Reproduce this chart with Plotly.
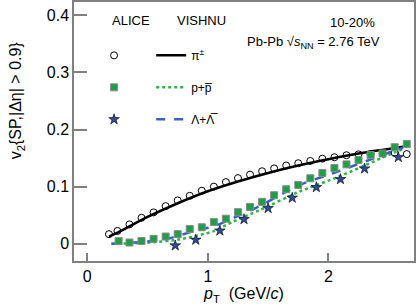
import plotly.graph_objects as go

# ALICE data
pi_pt = [0.18, 0.25, 0.35, 0.45, 0.55, 0.65, 0.75, 0.85, 0.95, 1.05, 1.15, 1.25, 1.35,
         1.45, 1.55, 1.65, 1.75, 1.85, 1.95, 2.05, 2.15, 2.25, 2.35, 2.45, 2.55, 2.65]
pi_v2 = [0.017, 0.0225, 0.034, 0.0456, 0.055, 0.066, 0.076, 0.084, 0.093, 0.100, 0.108,
         0.115, 0.121, 0.127, 0.132, 0.137, 0.141, 0.145, 0.149, 0.1515, 0.155, 0.1565,
         0.157, 0.158, 0.159, 0.157]

p_pt = [0.26, 0.35, 0.45, 0.55, 0.65, 0.75, 0.85, 0.95, 1.05, 1.15, 1.25, 1.35, 1.45,
        1.55, 1.65, 1.75, 1.85, 1.95, 2.05, 2.15, 2.25, 2.35, 2.45, 2.55, 2.65]
p_v2 = [0.0047, 0.0023, 0.005, 0.0087, 0.0128, 0.017, 0.026, 0.029, 0.038, 0.044, 0.0554,
        0.0646, 0.0735, 0.085, 0.0955, 0.103, 0.1147, 0.124, 0.1325, 0.139, 0.1467,
        0.1555, 0.158, 0.169, 0.1747]

lam_pt = [0.73, 0.90, 1.10, 1.30, 1.50, 1.70, 1.90, 2.10, 2.30, 2.58]
lam_v2 = [-0.003, 0.007, 0.023, 0.043, 0.0623, 0.0805, 0.099, 0.113, 0.1315, 0.1515]

# VISHNU curves
vpi_pt = [0.18, 0.3, 0.5, 0.75, 1.0, 1.25, 1.5, 1.75, 2.0, 2.25, 2.5, 2.62]
vpi_v2 = [0.0125, 0.025, 0.047, 0.071, 0.092, 0.109, 0.124, 0.137, 0.148, 0.158, 0.166, 0.170]

vp_pt = [0.2, 0.5, 0.77, 1.04, 1.21, 1.43, 1.76, 2.08, 2.56, 2.62]
vp_v2 = [0.0, 0.002, 0.008, 0.0215, 0.039, 0.059, 0.0914, 0.117, 0.161, 0.166]

vl_pt = [0.2, 0.45, 0.65, 0.93, 1.04, 1.43, 1.76, 2.06, 2.56, 2.62]
vl_v2 = [0.0, 0.003, 0.008, 0.025, 0.030, 0.066, 0.103, 0.125, 0.164, 0.168]

x_ticks = [0, 1, 2]
y_ticks = [0, 0.1, 0.2, 0.3, 0.4]
y_tick_labels = ["0", "0.1", "0.2", "0.3", "0.4"]

FONT = "Liberation Sans, Arial, sans-serif"
AX = "#808080"

fig = go.Figure()

fig.add_trace(go.Scatter(x=vpi_pt, y=vpi_v2, mode="lines", name="π<sup>±</sup>",
                         line=dict(color="black", width=2.5, shape="spline", smoothing=0.8),
                         legend="legend2", legendgroup="v1"))
fig.add_trace(go.Scatter(x=vp_pt, y=vp_v2, mode="lines", name="p+p\u0305",
                         line=dict(color="#2fb34a", width=2.5, dash="dot", shape="spline", smoothing=0.6),
                         legend="legend2", legendgroup="v2"))
fig.add_trace(go.Scatter(x=vl_pt, y=vl_v2, mode="lines", name="Λ+Λ\u0305",
                         line=dict(color="#3a5fc4", width=2.5, dash="dash", shape="spline", smoothing=0.6),
                         legend="legend2", legendgroup="v3"))

fig.add_trace(go.Scatter(x=pi_pt, y=pi_v2, mode="markers", name="\u00a0",
                         marker=dict(symbol="circle-open", size=7, color="black", line=dict(width=1)),
                         legend="legend", legendgroup="a1"))
fig.add_trace(go.Scatter(x=p_pt, y=p_v2, mode="markers", name="\u00a0",
                         marker=dict(symbol="square", size=7, color="#1f9e48",
                                     line=dict(color="#8a8a8a", width=1)),
                         legend="legend", legendgroup="a2"))
fig.add_trace(go.Scatter(x=lam_pt, y=lam_v2, mode="markers", name="\u00a0",
                         marker=dict(symbol="star", size=8, color="#2c4c9c",
                                     line=dict(color="black", width=0.6)),
                         legend="legend", legendgroup="a3"))

common_leg = dict(bgcolor="rgba(0,0,0,0)", font=dict(family=FONT, size=12, color="black"),
                  tracegroupgap=13, yanchor="top", xanchor="left", itemwidth=30)

anns = [
    dict(text="v<sub>2</sub>{SP,|Δη| > 0.9}", x=-0.168, y=0.62, xref="paper", yref="paper",
         xanchor="center", yanchor="middle", showarrow=False, textangle=-90,
         font=dict(family=FONT, size=16, color="black")),
    dict(text="ALICE", x=0.106, y=0.927, xref="paper", yref="paper", xanchor="left",
         yanchor="middle", showarrow=False, font=dict(family=FONT, size=13, color="black")),
    dict(text="VISHNU", x=0.297, y=0.927, xref="paper", yref="paper", xanchor="left",
         yanchor="middle", showarrow=False, font=dict(family=FONT, size=13, color="black")),
    dict(text="10-20%", x=0.82, y=0.919, xref="paper", yref="paper", xanchor="center",
         yanchor="middle", showarrow=False, font=dict(family=FONT, size=13, color="black")),
    dict(text="Pb-Pb √<i>s</i><sub>NN</sub> = 2.76 TeV", x=0.703, y=0.845, xref="paper",
         yref="paper", xanchor="center", yanchor="middle", showarrow=False,
         font=dict(family=FONT, size=13, color="black")),
]

fig.update_layout(
    width=416, height=308,
    margin=dict(l=74, r=2, t=2, b=47, autoexpand=False),
    paper_bgcolor="white", plot_bgcolor="white",
    showlegend=True,
    legend=dict(x=0.059, y=0.85, **common_leg),
    legend2=dict(x=0.227, y=0.85, **common_leg),
    xaxis=dict(range=[-0.11, 2.71], tickvals=x_ticks, ticks="inside", ticklen=8,
               tickcolor=AX, tickwidth=1.5, showline=True, linecolor=AX, linewidth=1.5,
               mirror=True, showgrid=False, zeroline=False, automargin=False,
               tickfont=dict(family=FONT, size=16, color="black"),
               title=dict(text="<i>p</i><sub>T</sub>  (GeV/<i>c</i>)",
                          font=dict(family=FONT, size=16, color="black"), standoff=4)),
    yaxis=dict(range=[-0.03, 0.423], tickvals=y_ticks, ticktext=y_tick_labels,
               ticks="inside", ticklen=13, automargin=False,
               tickcolor=AX, tickwidth=1.5, showline=True, linecolor=AX, linewidth=1.5,
               mirror=True, showgrid=False, zeroline=False,
               tickfont=dict(family=FONT, size=16, color="black")),
    annotations=anns,
)

fig.write_html("out.html", config={"displayModeBar": False},
               post_script="document.body.style.margin='0';document.body.style.overflow='hidden';")
